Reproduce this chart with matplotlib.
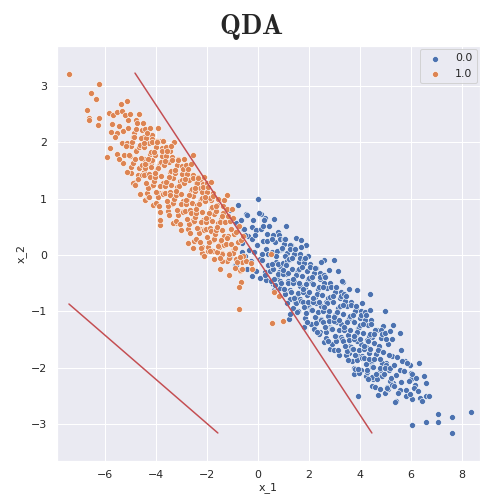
import numpy as np
import matplotlib
matplotlib.use("Agg")
import matplotlib.pyplot as plt
import seaborn as sns

sns.set_theme(style="darkgrid")
plt.rcParams['font.family'] = ['DejaVu Sans']
plt.rcParams['mathtext.fontset'] = 'cm'

class_labels = ["0.0", "1.0"]

# class 0.0 (blue) points
blue_points = [
    (8.34, -2.78), (7.61, -3.16), (7.61, -2.88), (7.06, -2.82), (7.06, -2.96), (6.61, -2.96),
    (6.05, -3.02), (5.40, -2.60), (3.93, -2.50), (4.71, -2.49), (4.97, -2.45), (5.12, -2.38),
    (5.29, -2.27), (5.20, -2.24), (5.59, -2.40), (5.82, -2.51), (6.04, -2.55), (6.34, -2.53),
    (6.43, -2.60), (6.60, -2.50), (6.70, -2.50), (6.60, -2.27), (6.50, -2.15), (6.18, -2.31),
    (5.99, -2.21), (6.01, -2.09), (6.30, -1.92), (5.78, -1.89), (5.95, -1.96), (5.62, -1.68),
    (5.56, -1.38), (5.29, -1.24), (4.99, -0.99), (4.41, -0.69), (3.88, -0.62), (3.33, -0.48),
    (3.00, -0.09), (2.59, -0.09), (3.15, -0.28), (-0.01, 1.00), (-0.78, 0.88), (-1.08, 0.80),
    (-1.50, 0.97), (-0.47, 0.72), (0.12, 0.72), (0.29, 0.66), (0.64, 0.64), (1.10, 0.51),
    (1.50, 0.31), (1.69, 0.26), (1.87, 0.18), (-0.89, 0.40), (-1.12, -0.02), (-0.88, -0.17),
    (-0.42, -0.24), (-0.24, -0.37), (0.10, -0.40), (0.61, -0.51), (0.85, -0.59), (1.22, -1.13),
    (1.24, -1.05), (1.79, -1.27), (2.21, -1.26), (2.42, -1.37), (2.61, -1.54), (2.84, -1.67),
    (3.20, -1.77), (3.57, -1.74), (3.76, -2.01), (3.75, -2.11), (4.05, -2.05), (4.25, -2.14),
    (4.51, -2.21), (4.48, -2.33), (4.77, -2.04), (5.03, -1.92), (-1.11, -0.03), (-0.84, -0.17),
    (-0.87, 0.56), (-0.57, 0.46), (-0.25, 0.50),
    (-0.68, 0.62), (-0.61, 0.21), (-0.55, 0.47), (-0.49, -0.02), (-0.43, 0.71), (-0.37, 0.33),
    (-0.33, 0.08), (-0.52, 0.35), (-0.64, 0.05),
    (-0.28, -0.10), (-0.24, 0.29), (-0.19, 0.62), (-0.15, 0.06), (-0.09, -0.29), (-0.06, 0.45),
    (-0.02, 0.17), (0.03, 0.75), (0.07, -0.07), (-0.12, 0.35),
    (0.12, 0.46), (0.16, -0.08), (0.21, 0.24), (0.24, 0.63), (0.27, -0.31), (0.31, 0.11),
    (0.36, 0.38), (0.39, -0.17), (0.44, 0.52), (0.47, 0.02), (0.33, -0.45),
    (0.17, 0.01), (0.21, 0.52), (0.28, -0.36), (0.36, 0.24), (0.40, 0.01), (0.44, 0.52), (0.47, -0.29),
    (0.52, -0.47), (0.55, 0.06), (0.59, -0.25), (0.63, -0.63), (0.66, 0.23), (0.71, -0.13),
    (0.74, -0.40), (0.78, 0.40), (0.82, -0.31), (0.86, 0.09), (0.69, -0.54), (0.88, -0.20),
    (0.57, -0.16), (0.61, 0.35), (0.68, -0.53), (0.76, 0.07), (0.80, -0.16), (0.84, 0.35), (0.87, -0.46),
    (0.54, 0.28), (0.62, -0.43), (0.70, -0.01), (0.77, -0.33), (0.85, 0.28),
    (0.92, -0.49), (0.95, 0.11), (0.99, -0.14), (1.03, 0.28), (1.06, -0.66), (1.11, -0.33),
    (1.14, 0.04), (1.18, -0.47), (1.22, -0.09), (1.26, -0.78), (1.08, -0.02), (1.28, 0.17),
    (0.97, -0.33), (1.01, 0.19), (1.08, -0.69), (1.16, -0.10), (1.20, -0.32), (1.24, 0.18), (1.27, -0.62),
    (0.94, 0.12), (1.02, -0.60), (1.10, -0.18), (1.17, -0.50), (1.25, 0.11),
    (0.98, -0.26), (1.05, 0.28), (1.13, -0.85), (1.21, -0.07), (1.28, -0.65),
    (1.31, -0.65), (1.34, -0.24), (1.38, -0.94), (1.42, -0.47), (1.45, 0.02), (1.49, -0.74),
    (1.53, -0.31), (1.56, -1.00), (1.60, -0.13), (1.64, -0.55), (1.68, 0.15), (1.47, -0.83),
    (1.37, -0.50), (1.41, 0.02), (1.48, -0.86), (1.56, -0.27), (1.60, -0.49), (1.64, 0.01), (1.67, -0.79),
    (1.34, -0.05), (1.42, -0.77), (1.50, -0.35), (1.57, -0.67), (1.65, -0.05),
    (1.38, -0.43), (1.45, 0.11), (1.53, -1.02), (1.61, -0.24), (1.68, -0.82),
    (1.72, -0.38), (1.75, -0.83), (1.79, -0.09), (1.83, -0.57), (1.86, -1.11), (1.91, -0.29),
    (1.94, -0.71), (1.98, -0.01), (2.02, -0.92), (2.06, -0.46), (2.09, -1.22), (1.89, -0.51),
    (1.77, -0.66), (1.81, -0.15), (1.88, -1.03), (1.96, -0.43), (2.00, -0.66), (2.04, -0.16), (2.07, -0.96),
    (1.74, -0.22), (1.82, -0.93), (1.90, -0.52), (1.97, -0.84), (2.05, -0.22),
    (1.78, -0.60), (1.85, -0.06), (1.93, -1.19), (2.01, -0.40), (2.08, -0.98),
    (2.12, -0.97), (2.15, -0.51), (2.19, -1.32), (2.23, -0.75), (2.26, -0.23), (2.31, -1.13),
    (2.34, -0.60), (2.38, -1.41), (2.42, -0.42), (2.46, -0.91), (2.49, -0.13), (2.28, -0.86),
    (2.17, -0.83), (2.21, -0.32), (2.28, -1.20), (2.36, -0.60), (2.40, -0.83), (2.44, -0.32), (2.47, -1.13),
    (2.14, -0.39), (2.22, -1.10), (2.30, -0.69), (2.37, -1.01), (2.45, -0.39),
    (2.18, -0.77), (2.25, -0.23), (2.33, -1.36), (2.41, -0.57), (2.48, -1.15),
    (2.52, -0.71), (2.55, -1.19), (2.59, -0.36), (2.63, -0.97), (2.66, -1.47), (2.71, -0.58),
    (2.74, -1.09), (2.78, -0.27), (2.82, -1.28), (2.86, -0.82), (2.89, -1.58), (2.68, -0.84),
    (2.57, -1.00), (2.61, -0.49), (2.68, -1.37), (2.76, -0.77), (2.80, -1.00), (2.84, -0.49), (2.87, -1.30),
    (2.54, -0.56), (2.62, -1.27), (2.70, -0.85), (2.77, -1.17), (2.85, -0.56),
    (2.58, -0.93), (2.65, -0.39), (2.73, -1.53), (2.81, -0.74), (2.88, -1.32),
    (2.92, -1.32), (2.95, -0.84), (2.99, -1.68), (3.03, -1.06), (3.06, -0.58), (3.11, -1.46),
    (3.14, -0.94), (3.18, -1.77), (3.22, -0.76), (3.26, -1.23), (3.29, -0.47), (3.08, -1.19),
    (2.97, -1.17), (3.01, -0.65), (3.08, -1.53), (3.16, -0.94), (3.20, -1.16), (3.24, -0.66), (3.27, -1.46),
    (2.94, -0.72), (3.02, -1.44), (3.10, -1.02), (3.17, -1.34), (3.25, -0.73),
    (2.98, -1.10), (3.05, -0.56), (3.13, -1.69), (3.21, -0.91), (3.28, -1.49),
    (3.32, -1.05), (3.35, -1.53), (3.39, -0.69), (3.43, -1.31), (3.46, -1.78), (3.51, -0.91),
    (3.54, -1.42), (3.58, -0.61), (3.62, -1.61), (3.66, -1.13), (3.69, -1.88), (3.48, -1.18),
    (3.37, -1.34), (3.41, -0.82), (3.48, -1.70), (3.56, -1.11), (3.60, -1.33), (3.64, -0.83), (3.67, -1.63),
    (3.34, -0.89), (3.42, -1.61), (3.50, -1.19), (3.57, -1.51), (3.65, -0.89),
    (3.38, -1.27), (3.45, -0.73), (3.53, -1.86), (3.61, -1.08), (3.68, -1.66),
    (3.72, -1.66), (3.75, -1.19), (3.79, -2.02), (3.83, -1.41), (3.86, -0.94), (3.91, -1.80),
    (3.94, -1.30), (3.98, -2.09), (4.02, -1.11), (4.06, -1.58), (4.09, -0.85), (3.88, -1.52),
    (3.77, -1.50), (3.81, -0.99), (3.88, -1.87), (3.96, -1.27), (4.00, -1.50), (4.04, -1.00), (4.07, -1.80),
    (3.74, -1.06), (3.82, -1.77), (3.90, -1.36), (3.97, -1.68), (4.05, -1.06),
    (3.78, -1.44), (3.85, -0.90), (3.93, -2.03), (4.01, -1.24), (4.08, -1.82),
    (4.12, -1.38), (4.15, -1.83), (4.19, -1.02), (4.23, -1.63), (4.26, -2.07), (4.31, -1.24),
    (4.34, -1.74), (4.38, -0.98), (4.42, -1.92), (4.46, -1.46), (4.49, -2.16), (4.28, -1.51),
    (4.17, -1.67), (4.21, -1.16), (4.28, -2.04), (4.36, -1.44), (4.40, -1.67), (4.44, -1.16), (4.47, -1.97),
    (4.14, -1.23), (4.22, -1.94), (4.30, -1.53), (4.37, -1.85), (4.45, -1.23),
    (4.18, -1.61), (4.25, -1.07), (4.33, -2.20), (4.41, -1.41), (4.48, -1.99),
    (4.52, -1.99), (4.55, -1.57), (4.59, -2.35), (4.63, -1.75), (4.66, -1.33), (4.71, -2.13),
    (4.74, -1.65), (4.78, -2.38), (4.82, -1.48), (4.86, -1.92), (4.89, -1.26),
    (4.57, -1.84), (4.61, -1.33), (4.68, -2.21), (4.76, -1.61), (4.80, -1.84), (4.84, -1.33), (4.87, -2.14),
    (4.54, -1.40), (4.62, -2.11), (4.70, -1.69), (4.77, -2.01), (4.85, -1.40),
    (4.92, -1.72), (4.95, -2.12), (4.99, -1.38), (5.03, -1.96), (5.06, -2.34), (5.11, -1.58),
    (5.14, -2.04), (5.18, -1.35), (5.22, -2.19), (5.26, -1.79),
    (4.97, -2.01), (5.01, -1.49), (5.08, -2.37), (5.16, -1.78), (5.20, -2.00), (5.24, -1.50), (5.27, -2.30),
    (5.32, -2.33), (5.35, -1.95), (5.39, -2.61), (5.43, -2.13), (5.47, -1.81), (5.51, -2.45),
    (5.56, -2.04), (5.62, -2.26), (5.67, -1.89),
    (5.74, -2.06), (5.79, -2.39), (5.85, -1.91), (5.91, -2.24), (5.97, -2.47), (6.05, -2.12),
    (6.12, -2.36), (6.21, -2.19), (6.28, -2.42),
]

# class 1.0 (orange) points
orange_points = [
    (-7.41, 3.22), (-6.25, 3.04), (-6.54, 2.88), (-6.35, 2.77), (-6.72, 2.58), (-6.61, 2.44),
    (-6.64, 2.39), (-6.22, 2.44), (-6.26, 2.30), (-5.15, 2.74), (-5.36, 2.68), (-5.83, 2.52),
    (-5.67, 2.48), (-5.52, 2.54), (-5.31, 2.56), (-5.11, 2.39), (-4.78, 2.39), (-4.68, 2.51),
    (-5.73, 2.32), (-5.46, 2.29), (-5.75, 2.18), (-5.52, 2.16), (-5.62, 2.09), (-5.91, 1.74),
    (-5.81, 1.90), (-5.31, 1.98), (-5.15, 1.98), (-4.86, 2.17), (-4.89, 2.09), (-4.52, 2.09),
    (-4.26, 2.11), (-4.16, 2.13), (-3.91, 2.25), (-3.82, 2.02), (-3.29, 2.00), (-3.45, 1.84),
    (-4.99, 1.94), (-4.78, 1.87), (-5.02, 1.76), (-5.52, 1.80), (-5.28, 1.63), (-5.44, 1.71),
    (-4.99, 1.45), (-4.82, 1.30), (-4.59, 1.42), (-4.46, 1.47), (-4.47, 1.71), (-4.65, 1.55),
    (-4.37, 1.60), (-4.21, 1.64), (-2.54, 1.77), (-2.60, 1.42), (-2.24, 1.33), (-2.41, 1.28),
    (-1.75, 1.05), (-1.23, 1.06), (-4.43, 0.98), (-4.30, 1.03), (-3.84, 0.53), (-3.82, 0.62),
    (-3.22, 0.56), (-2.73, 0.21), (-2.56, 0.12), (-2.21, 0.15), (-2.15, 0.03), (-1.82, 0.09),
    (-1.42, 0.03), (-1.12, 0.03), (-0.97, 0.09),
    (-2.20, 0.04), (-2.12, -0.02), (-1.96, 0.07), (-1.75, 0.07), (-1.39, 0.02), (-1.23, -0.10),
    (-1.49, -0.24), (-1.14, -0.35), (-0.71, -0.28), (-0.81, -0.08), (-0.63, -0.03), (-0.63, -0.12),
    (-0.65, -0.48), (-0.73, -0.57), (-0.76, -0.96), (-0.47, -0.10),
    (-2.29, 1.34), (-2.29, 1.19), (-1.76, 1.07), (-1.83, 0.98), (0.55, -1.20), (0.99, -1.18),
    (0.64, -0.65), (0.82, -0.72), (-0.72, -0.27), (-0.25, -0.25), (-0.26, -0.14), (-0.59, -0.02),
    (-0.85, -0.07), (-1.11, 0.04), (-0.95, 0.09), (0.51, 0.02),
    (-5.28, 2.21), (-5.25, 1.77), (-5.21, 2.49), (-5.17, 1.93), (-5.14, 1.47), (-5.09, 2.26),
    (-5.06, 1.78), (-5.02, 2.51), (-4.98, 1.57), (-4.94, 2.00), (-4.91, 1.27),
    (-4.88, 1.63), (-4.85, 2.10), (-4.81, 1.25), (-4.77, 1.85), (-4.74, 2.34), (-4.69, 1.42),
    (-4.66, 1.92), (-4.62, 1.08), (-4.58, 2.08), (-4.54, 1.59), (-4.51, 2.35),
    (-4.83, 1.71), (-4.79, 2.23), (-4.72, 1.35), (-4.64, 1.95), (-4.60, 1.72), (-4.56, 2.22), (-4.53, 1.42),
    (-4.48, 1.91), (-4.45, 1.42), (-4.41, 2.23), (-4.37, 1.61), (-4.34, 1.10), (-4.29, 1.98),
    (-4.26, 1.44), (-4.22, 2.26), (-4.18, 1.22), (-4.14, 1.69), (-4.11, 0.89),
    (-4.43, 1.55), (-4.39, 2.07), (-4.32, 1.19), (-4.24, 1.79), (-4.20, 1.56), (-4.16, 2.06), (-4.13, 1.26),
    (-4.46, 1.99), (-4.38, 1.28), (-4.30, 1.70), (-4.23, 1.38), (-4.15, 2.00),
    (-4.42, 1.62), (-4.35, 2.16), (-4.27, 1.03), (-4.19, 1.82), (-4.12, 1.24),
    (-4.08, 1.31), (-4.05, 1.78), (-4.01, 0.93), (-3.97, 1.53), (-3.94, 2.02), (-3.89, 1.10),
    (-3.86, 1.60), (-3.82, 0.76), (-3.78, 1.76), (-3.74, 1.27), (-3.71, 2.03),
    (-4.03, 1.39), (-3.99, 1.91), (-3.92, 1.03), (-3.84, 1.63), (-3.80, 1.40), (-3.76, 1.90), (-3.73, 1.10),
    (-4.06, 1.83), (-3.98, 1.12), (-3.90, 1.54), (-3.83, 1.22), (-3.75, 1.84),
    (-4.02, 1.46), (-3.95, 2.00), (-3.87, 0.87), (-3.79, 1.66), (-3.72, 1.08),
    (-3.68, 1.59), (-3.65, 1.10), (-3.61, 1.91), (-3.57, 1.29), (-3.54, 0.78), (-3.49, 1.66),
    (-3.46, 1.12), (-3.42, 1.94), (-3.38, 0.90), (-3.34, 1.37), (-3.31, 0.57),
    (-3.63, 1.23), (-3.59, 1.75), (-3.52, 0.87), (-3.44, 1.47), (-3.40, 1.24), (-3.36, 1.74), (-3.33, 0.94),
    (-3.66, 1.67), (-3.58, 0.96), (-3.50, 1.38), (-3.43, 1.06), (-3.35, 1.68),
    (-3.62, 1.30), (-3.55, 1.84), (-3.47, 0.71), (-3.39, 1.50), (-3.32, 0.92),
    (-3.28, 0.99), (-3.25, 1.46), (-3.21, 0.61), (-3.17, 1.21), (-3.14, 1.70), (-3.09, 0.78),
    (-3.06, 1.28), (-3.02, 0.44), (-2.98, 1.44), (-2.94, 0.95), (-2.91, 1.71),
    (-3.23, 1.07), (-3.19, 1.59), (-3.12, 0.71), (-3.04, 1.31), (-3.00, 1.08), (-2.96, 1.58), (-2.93, 0.78),
    (-3.26, 1.51), (-3.18, 0.80), (-3.10, 1.22), (-3.03, 0.90), (-2.95, 1.52),
    (-3.22, 1.14), (-3.15, 1.68), (-3.07, 0.55), (-2.99, 1.34), (-2.92, 0.76),
    (-2.88, 1.27), (-2.85, 0.78), (-2.81, 1.59), (-2.77, 0.97), (-2.74, 0.46), (-2.69, 1.34),
    (-2.66, 0.80), (-2.62, 1.62), (-2.58, 0.58), (-2.54, 1.05), (-2.51, 0.25),
    (-2.83, 0.91), (-2.79, 1.43), (-2.72, 0.55), (-2.64, 1.15), (-2.60, 0.92), (-2.56, 1.42), (-2.53, 0.62),
    (-2.86, 1.35), (-2.78, 0.64), (-2.70, 1.06), (-2.63, 0.74), (-2.55, 1.36),
    (-2.82, 0.98), (-2.75, 1.52), (-2.67, 0.39), (-2.59, 1.18), (-2.52, 0.60),
    (-2.48, 0.67), (-2.45, 1.14), (-2.41, 0.29), (-2.37, 0.89), (-2.34, 1.38), (-2.29, 0.46),
    (-2.26, 0.96), (-2.22, 0.12), (-2.18, 1.12), (-2.14, 0.63), (-2.11, 1.39),
    (-2.43, 0.75), (-2.39, 1.27), (-2.32, 0.39), (-2.24, 0.99), (-2.20, 0.76), (-2.16, 1.26), (-2.13, 0.46),
    (-2.46, 1.19), (-2.38, 0.48), (-2.30, 0.90), (-2.23, 0.58), (-2.15, 1.20),
    (-2.42, 0.82), (-2.35, 1.36), (-2.27, 0.23), (-2.19, 1.02), (-2.12, 0.44),
    (-2.08, 0.95), (-2.05, 0.46), (-2.01, 1.27), (-1.97, 0.65), (-1.94, 0.14), (-1.89, 1.02),
    (-1.86, 0.48), (-1.82, 1.30), (-1.78, 0.26), (-1.74, 0.73), (-1.71, -0.07),
    (-2.03, 0.59), (-1.99, 1.11), (-1.92, 0.23), (-1.84, 0.83), (-1.80, 0.60), (-1.76, 1.10), (-1.73, 0.30),
    (-2.06, 1.03), (-1.98, 0.32), (-1.90, 0.74), (-1.83, 0.42), (-1.75, 1.04),
    (-2.02, 0.66), (-1.95, 1.20), (-1.87, 0.07), (-1.79, 0.86), (-1.72, 0.28),
    (-1.68, 0.38), (-1.65, 0.78), (-1.61, 0.06), (-1.57, 0.56), (-1.54, 0.98), (-1.49, 0.19),
    (-1.46, 0.62), (-1.42, -0.10), (-1.38, 0.75), (-1.34, 0.33), (-1.31, 0.97),
    (-1.63, 0.45), (-1.59, 0.89), (-1.52, 0.14), (-1.44, 0.64), (-1.40, 0.44), (-1.36, 0.87), (-1.33, 0.18),
    (-1.66, 0.87), (-1.58, 0.16), (-1.50, 0.58), (-1.43, 0.26),
    (-1.62, 0.50), (-1.55, 1.00), (-1.47, -0.05), (-1.39, 0.70),
    (-1.28, 0.58), (-1.25, 0.20), (-1.21, 0.81), (-1.17, 0.34), (-1.14, -0.05), (-1.09, 0.61),
    (-1.06, 0.20), (-1.02, 0.81), (-0.98, 0.03), (-0.94, 0.38), (-0.91, -0.23),
    (-1.23, 0.30), (-1.19, 0.69), (-1.12, 0.02), (-1.04, 0.46), (-0.96, 0.66),
    (-0.88, 0.12), (-0.85, 0.40), (-0.81, -0.12), (-0.77, 0.23), (-0.74, 0.52), (-0.69, -0.04),
    (-0.66, 0.26), (-0.62, -0.25), (-0.58, 0.34),
]

# QDA decision boundary (two branches), endpoints
boundary_a_x = [-4.82, 4.47]
boundary_a_y = [3.23, -3.16]
boundary_b_x = [-7.41, -1.57]
boundary_b_y = [-0.87, -3.16]

x_limits = (-7.89, 8.71)
y_limits = (-3.652, 3.716)

blue_x = np.array([p[0] for p in blue_points])
blue_y = np.array([p[1] for p in blue_points])
orange_x = np.array([p[0] for p in orange_points])
orange_y = np.array([p[1] for p in orange_points])

palette = sns.color_palette("deep")

fig = plt.figure(figsize=(480 / 72, 496 / 72), dpi=72)
ax = fig.add_axes([56.7 / 480, 1 - 460.7 / 496, (480 - 56.7) / 480, (460.7 - 45.7) / 496])

ax.scatter(blue_x, blue_y, s=36, color=palette[0], edgecolor="white", linewidth=0.6,
           label=class_labels[0], zorder=2)
ax.scatter(orange_x, orange_y, s=36, color=palette[1], edgecolor="white", linewidth=0.6,
           label=class_labels[1], zorder=2)

ax.plot(boundary_a_x, boundary_a_y, color="#C44E52", linewidth=1.5, zorder=3)
ax.plot(boundary_b_x, boundary_b_y, color="#C44E52", linewidth=1.5, zorder=3)

ax.set_xlim(*x_limits)
ax.set_ylim(*y_limits)
ax.set_xticks([-6, -4, -2, 0, 2, 4, 6, 8])
ax.set_yticks([-3, -2, -1, 0, 1, 2, 3])
ax.tick_params(labelsize=11, colors="#262626")
ax.set_xlabel("x_1", fontsize=11, labelpad=2)
ax.set_ylabel("x_2", fontsize=11, labelpad=4)
ax.legend(loc="upper right", fontsize=11, borderaxespad=0.3)

fig.text(251.5 / 480, 1 - 33.5 / 496, r"$\mathbf{QDA}$", fontsize=28,
         ha="center", va="baseline")

fig.savefig("out.png", dpi=72)
